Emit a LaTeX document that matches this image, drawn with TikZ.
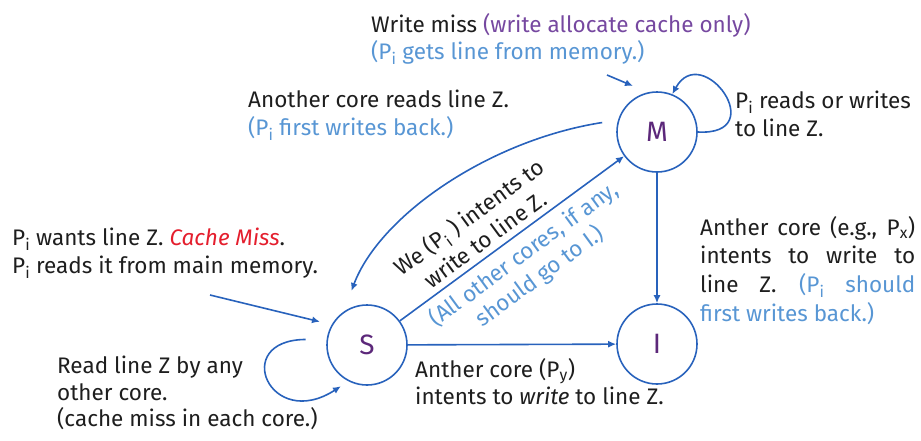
\documentclass[tikz,border=0pt]{standalone}
\usepackage{fontspec}
\setmainfont{Fira Sans}
\usetikzlibrary{arrows.meta}

\definecolor{lineblue}{RGB}{40,98,188}
\definecolor{statepurple}{RGB}{92,40,122}
\definecolor{tpurple}{RGB}{118,72,160}
\definecolor{tblue}{RGB}{88,150,212}
\definecolor{tred}{RGB}{228,30,45}
\definecolor{tblack}{RGB}{30,30,30}

\newcommand{\Psub}[1]{P\textsubscript{#1}}

\begin{document}
\begin{tikzpicture}[x=1pt, y=-1pt,
    every node/.style={font=\fontsize{22.5}{27.5}\selectfont, text=tblack, inner sep=0pt},
    state/.style={circle, draw=lineblue, line width=1.6pt, minimum size=80pt,
        text=statepurple, font=\fontsize{28}{28}\selectfont},
    link/.style={draw=lineblue, line width=1.6pt, -{Latex[length=8pt, width=7pt]}},
    txt/.style={anchor=north west, align=left}]
    \useasboundingbox (0,0) rectangle (921,440);

    % states
    \node[state] (M) at (657,132) {M};
    \node[state] (S) at (367,345) {S};
    \node[state] (I) at (657,344) {I};

    % free ends
    \coordinate (wmA) at (607,75);
    \coordinate (wmB) at (633,86);
    \coordinate (inA) at (210,295);

    % texts
    \node[txt] (wm) at (371,13) {Write miss \textcolor{tpurple}{(write allocate cache only)}\\
        \textcolor{tblue}{(\Psub{i} gets line from memory.)}};
    \node[txt] (mself) at (735,91) {\Psub{i} reads or writes\\to line Z.};
    \node[txt] (rd) at (248,90) {Another core reads line Z.\\
        \textcolor{tblue}{(\Psub{i} first writes back.)}};
    \node[txt] (miss) at (12,228) {\Psub{i} wants line Z. \textcolor{tred}{\textit{Cache Miss}}.\\
        \Psub{i} reads it from main memory.};
    \node[txt, font=\fontsize{22.5}{26.5}\selectfont] (sself) at (57,356)
        {Read line Z by any\\other core.\\(cache miss in each core.)};
    \node[txt] (si) at (415,358) {Anther core (\Psub{y})\\intents to \textit{write} to line Z.};
    \node[anchor=north west, text width=215pt, align=justify,
        font=\fontsize{22.5}{28.7}\selectfont] (mi) at (700,216)
        {Anther core (e.g., \Psub{x})\linebreak intents to write to\linebreak
        line Z.\quad \textcolor{tblue}{(\Psub{i} should}\linebreak
        \textcolor{tblue}{first writes back.)}};

    % transitions
    \draw[link] (M.0) .. controls (772,136) and (702,40) .. (M.68);
    \draw[link] (wmA) -- (wmB);
    \draw[link, shorten <=16pt, shorten >=22pt] (M.163) .. controls (490,140) and (380,215) .. (S.125);
    \draw[link] (S) -- (M)
        node[sloped, pos=0.42, above=6pt, align=center] {We (\Psub{i} ) intents to\\write to line Z.}
        node[sloped, pos=0.5, below=7pt, align=center, text=tblue] {(All other cores, if any,\\should go to I.)};
    \draw[link] (M) -- (I);
    \draw[link] (S) -- (I);
    \draw[link, shorten >=12pt] (inA) -- (S.150);
    \draw[link, shorten <=21pt, shorten >=9pt] (S.172) .. controls (230,340) and (270,432) .. (S.243);
\end{tikzpicture}
\end{document}
